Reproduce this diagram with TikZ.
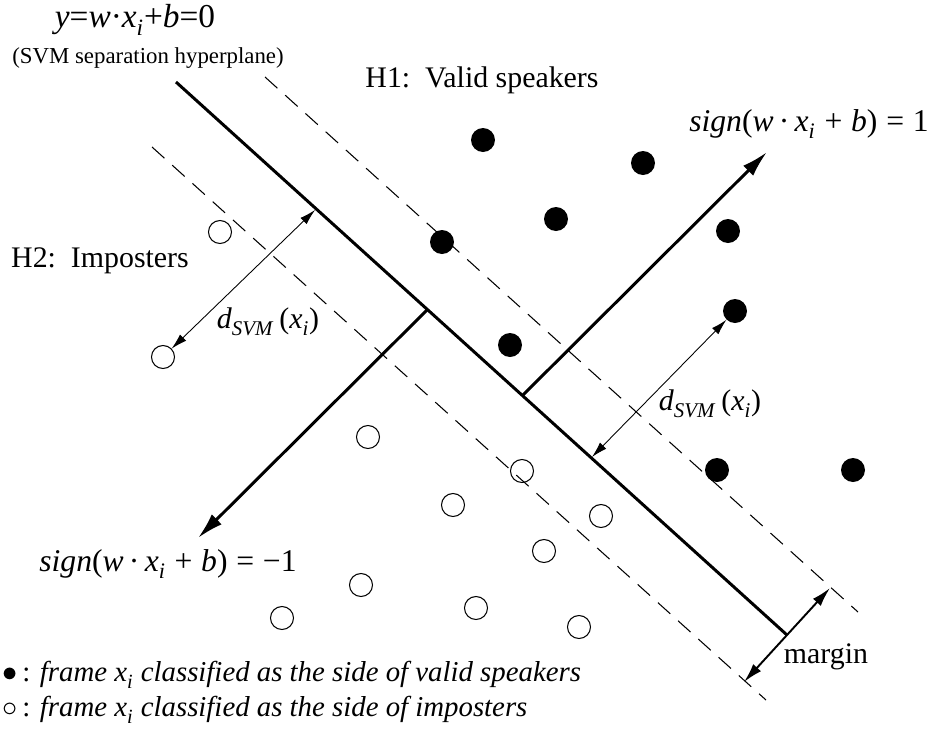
\documentclass[tikz,border=0pt]{standalone}
\usepackage{fontspec}
\setmainfont{Liberation Serif}
\usetikzlibrary{calc, arrows.meta}
\newcommand{\vxi}{\textit{x}\textsubscript{\raisebox{-0.3ex}{\textit{i}}}}
\newcommand{\dsvm}{\textit{d}\textsubscript{\raisebox{-0.3ex}{\textit{SVM}}}\,(\vxi)}
\newcommand{\signlab}[1]{\textit{sign}(\textit{w}\,·\,\vxi\;+\;\textit{b})\;=\;#1}

\begin{document}
\begin{tikzpicture}[x=0.02cm,y=-0.02cm,
        valid/.style={circle,fill=black,inner sep=0pt,minimum size=0.48cm},
        impo/.style={circle,draw,line width=0.6pt,inner sep=0pt,minimum size=0.46cm},
        margline/.style={line width=0.6pt,dash pattern=on 9.5pt off 6pt},
        thickarr/.style={line width=1.7pt,-{Latex[length=15pt,width=8pt]}},
        distarr/.style={line width=0.5pt,{Latex[length=9pt,width=5pt]}-{Latex[length=9pt,width=5pt]}},
        txt/.style={font=\fontsize{17}{20}\selectfont}]
        \useasboundingbox (0,0) rectangle (931,731);
        %punti dell'iperpiano e dei margini
        \coordinate (hpA) at (176,82);
        \coordinate (hpB) at (787,635);
        \coordinate (up1) at (265,77);
        \coordinate (up2) at (858,612);
        \coordinate (lo1) at (152,147);
        \coordinate (lo2) at (766,700);
        \coordinate (jP) at (523,395);
        \coordinate (tP) at (767,152);
        \coordinate (jN) at (427,310);
        \coordinate (tN) at (198,538);
        \coordinate (dL) at (315,210);
        \coordinate (dR) at (592,457);
        \coordinate (mU) at (830,588);
        \coordinate (mD) at (744,682);
        %disegno margini
        \draw[margline] (up1)--(up2);
        \draw[margline] (lo1)--(lo2);
        %disegno iperpiano
        \draw[line width=1.7pt] (hpA)--(hpB);
        %disegno punti validi
        \foreach \p [count=\i] in {(483,140),(643,163),(556,219),(442,242),(728,231),(735,311),(510,345),(717,470),(853,470)}
            \node[valid] (vs\i) at \p {};
        %disegno impostori
        \foreach \p [count=\i] in {(220,232),(163,357),(368,437),(522,471),(453,505),(601,516),(544,551),(361,585),(476,608),(282,618),(579,627)}
            \node[impo] (im\i) at \p {};
        %disegno frecce sign
        \draw[thickarr] (jP)--(tP);
        \draw[thickarr] (jN)--(tN);
        %disegno distanze
        \draw[distarr] (im2)--(dL);
        \draw[distarr] (dR)--(vs6);
        %disegno margin
        \draw[line width=1.1pt,{Latex[length=11pt,width=6pt]}-{Latex[length=11pt,width=6pt]}] (mD)--(mU);
        %etichette
        \node[font=\fontsize{19}{22}\selectfont] (eq) at (135,20) {\textit{y}=\textit{w}·\vxi+\textit{b}=0};
        \node[font=\fontsize{13}{15}\selectfont] (eqnote) at (148,58) {(SVM separation hyperplane)};
        \node[txt] (h1) at (482,80) {H1:\ \ Valid speakers};
        \node[txt] (h2) at (100,261) {H2:\ \ Imposters};
        \node[txt,font=\fontsize{18}{21}\selectfont] (sgP) at (809,124) {\signlab{1}};
        \node[txt,font=\fontsize{18}{21}\selectfont] (sgN) at (168,564) {\signlab{−1}};
        \node[txt] (dsL) at (268,322) {\dsvm};
        \node[txt] (dsR) at (710,404) {\dsvm};
        \node[txt] (mg) at (826,657) {margin};
        %legenda
        \node[anchor=west,inner sep=0pt,font=\fontsize{16.4}{19}\selectfont] (lg1) at (2,675) {$\bullet$\,: \textit{frame \vxi{} classified as the side of valid speakers}};
        \node[anchor=west,inner sep=0pt,font=\fontsize{16.4}{19}\selectfont] (lg2) at (2,710) {$\circ$\,: \textit{frame \vxi{} classified as the side of imposters}};
    \end{tikzpicture}
\end{document}
